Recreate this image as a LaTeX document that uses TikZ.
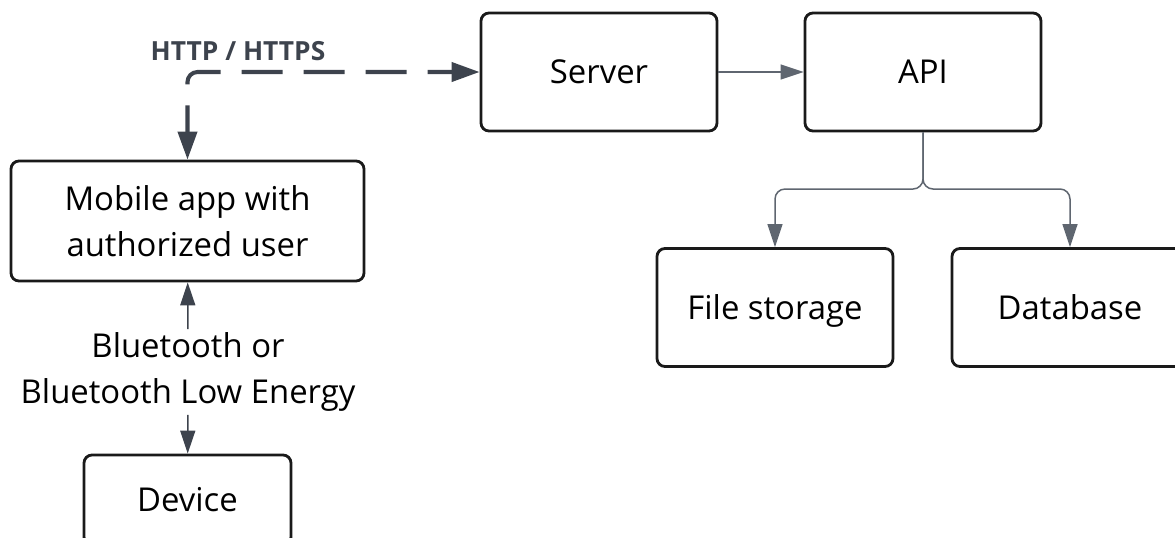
\documentclass[tikz,border=0pt]{standalone}
\usepackage{fontspec}
\setmainfont{Open Sans}
\usepackage{tikz}
\usetikzlibrary{arrows.meta}

\definecolor{boxline}{HTML}{1A1A1A}
\definecolor{arrowdark}{HTML}{3D434D}
\definecolor{linegray}{HTML}{5F6670}

\begin{document}
\begin{tikzpicture}[x=0.2mm, y=-0.2mm,
	every node/.style={font=\fontsize{18.7pt}{26.6pt}\selectfont, text=black},
	box/.style={draw=boxline, line width=1.6pt, rounded corners=1.6mm, align=center, minimum width=47.2mm, minimum height=23.6mm},
	oneline/.style={text height=18pt, text depth=4.4pt},
	link/.style={draw=linegray, line width=0.85pt, -{Triangle[length=4.6mm, width=3mm]}},
	weblink/.style={draw=arrowdark, line width=2.3pt, dash pattern=on 8.2mm off 4.2mm, dash phase=3.2mm, rounded corners=2mm, {Triangle[length=5.6mm, width=3.8mm]}-{Triangle[length=5.6mm, width=3.8mm]}}]
	\useasboundingbox (0,0) rectangle (1175,537);
	% boxes
	\node[box, oneline] (server) at (599,72) {Server};
	\node[box, oneline] (api) at (923,72) {API};
	\node[box, text depth=0pt, minimum width=70.6mm, minimum height=24mm] (mobile) at (187.5,221) {Mobile app with\\authorized user};
	\node[box, oneline] (files) at (775,307.5) {File storage};
	\node[box, oneline] (db) at (1070,307.5) {Database};
	\node[box, oneline, minimum width=41.4mm, minimum height=18mm] (device) at (187.5,500) {Device};
	% labels
	\node[font=\fontsize{15pt}{17pt}\selectfont\bfseries, text=arrowdark] (http) at (238,51) {HTTP / HTTPS};
	\node[align=center, inner sep=0.3mm, outer sep=0.3mm] (ble) at (188,372) {Bluetooth or\\Bluetooth Low Energy};
	\coordinate (fork) at (923,189);
	% connections
	\draw[weblink] (server.west) -| (mobile.north);
	\draw[link] (server) -- (api);
	\draw[link, rounded corners=2mm] (api.south) -- (fork) -| (files.north);
	\draw[link, rounded corners=2mm] (api.south) -- (fork) -| (db.north);
	\draw[link, draw=arrowdark] (ble) -- (mobile);
	\draw[link, draw=arrowdark] (ble) -- (device);
\end{tikzpicture}
\end{document}
